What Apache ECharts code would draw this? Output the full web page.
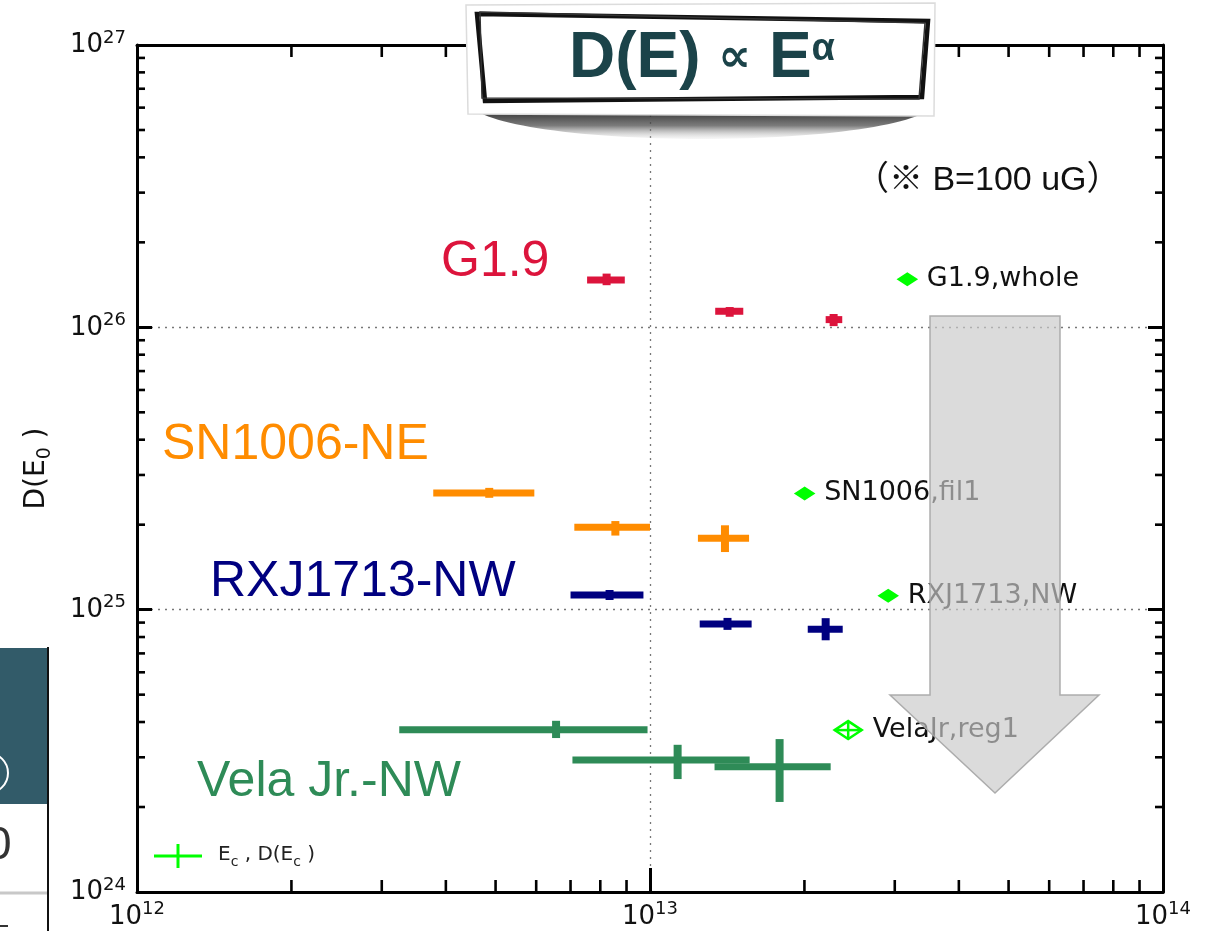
<!DOCTYPE html>
<html><head><meta charset="utf-8">
<script src="https://cdn.jsdelivr.net/npm/echarts@6/dist/echarts.min.js"></script>
<style>html,body{margin:0;padding:0;background:#fff}#c{width:1209px;height:931px}</style>
</head><body><div id="c"></div>
<script>
// ---------- data (E in eV, D in cm^2/s) ----------
const g19E   = [8.23e12, 1.43e13, 2.28e13];
const g19Elo = [7.54e12, 1.34e13, 2.20e13];
const g19Ehi = [8.93e12, 1.52e13, 2.37e13];
const g19D   = [1.47e26, 1.14e26, 1.065e26];
const g19Dlo = [1.41e26, 1.09e26, 1.01e26];
const g19Dhi = [1.55e26, 1.18e26, 1.115e26];

const snE   = [4.86e12, 8.56e12, 1.40e13];
const snElo = [3.78e12, 7.12e12, 1.24e13];
const snEhi = [5.95e12, 1.00e13, 1.56e13];
const snD   = [2.59e25, 1.96e25, 1.79e25];
const snDlo = [2.49e25, 1.83e25, 1.60e25];
const snDhi = [2.70e25, 2.06e25, 1.99e25];

const rxE   = [8.34e12, 1.416e13, 2.20e13];
const rxElo = [7.00e12, 1.25e13, 2.03e13];
const rxEhi = [9.71e12, 1.578e13, 2.375e13];
const rxD   = [1.127e25, 8.90e24, 8.53e24];
const rxDlo = [1.082e25, 8.48e24, 7.79e24];
const rxDhi = [1.174e25, 9.35e24, 9.33e24];

const vjE   = [6.56e12, 1.132e13, 1.789e13];
const vjElo = [3.245e12, 7.06e12, 1.336e13];
const vjEhi = [9.89e12, 1.564e13, 2.25e13];
const vjD   = [3.754e24, 2.933e24, 2.777e24];
const vjDlo = [3.51e24, 2.512e24, 2.084e24];
const vjDhi = [4.04e24, 3.322e24, 3.48e24];

// cutoff points E_c, D(E_c)
const gLabels = ['G1.9,whole', 'SN1006,fil1', 'RXJ1713,NW', 'VelaJr,reg1'];
const gE   = [3.174e13, 2.002e13, 2.913e13, 2.434e13];
const gElo = [3.09e13, 1.95e13, 2.84e13, 2.29e13];
const gEhi = [3.26e13, 2.06e13, 2.99e13, 2.586e13];
const gD   = [1.481e26, 2.58e25, 1.12e25, 3.745e24];
const gDlo = [1.45e26, 2.52e25, 1.09e25, 3.48e24];
const gDhi = [1.52e26, 2.64e25, 1.15e25, 4.03e24];

const sourceNames = ['G1.9', 'SN1006-NE', 'RXJ1713-NW', 'Vela Jr.-NW'];
const xRange = [1e12, 1e14];
const yRange = [1e24, 1e27];
const minorMult = [2, 3, 4, 5, 6, 7, 8, 9];
const xDecades = [1e12, 1e13];
const yDecades = [1e24, 1e25, 1e26];

// ---------- helpers ----------
const COL = {g19: '#dc143c', sn: '#ff8c00', rx: '#000080', vj: '#2e8b57', lime: '#00ff00'};
function rows(E, Elo, Ehi, D, Dlo, Dhi) {
  return E.map((e, i) => [e, Elo[i], Ehi[i], D[i], Dlo[i], Dhi[i]]);
}
function errRender(color) {
  return function (params, api) {
    const c = api.coord([api.value(0), api.value(3)]);
    const l = api.coord([api.value(1), api.value(3)]);
    const r = api.coord([api.value(2), api.value(3)]);
    const t = api.coord([api.value(0), api.value(5)]);
    const b = api.coord([api.value(0), api.value(4)]);
    const th = 7;
    return {type: 'group', children: [
      {type: 'rect', shape: {x: l[0], y: c[1] - th / 2, width: r[0] - l[0], height: th}, style: {fill: color}},
      {type: 'rect', shape: {x: c[0] - th / 2 - 0.5, y: t[1], width: th + 1, height: b[1] - t[1]}, style: {fill: color}}
    ]};
  };
}
function errSeries(name, color, data) {
  return {type: 'custom', name: name, coordinateSystem: 'cartesian2d', xAxisIndex: 0, yAxisIndex: 0,
    encode: {x: [0, 1, 2], y: [3, 4, 5]}, data: data, renderItem: errRender(color), z: 5, silent: true};
}
// minor tick positions (axis decoration)
const minorData = [];
xDecades.forEach(d => minorMult.forEach(m => {
  minorData.push([d * m, yRange[0], 0]);
  minorData.push([d * m, yRange[1], 1]);
}));
yDecades.forEach(d => minorMult.forEach(m => {
  minorData.push([xRange[0], d * m, 2]);
  minorData.push([xRange[1], d * m, 3]);
}));

function decLabel(v) { return '{b|10}{s|' + Math.round(Math.log10(v)) + '}'; }
const AF = 'DejaVu Sans';
const labelRich = {
  b: {fontSize: 26, fontFamily: AF, color: '#111', lineHeight: 27, verticalAlign: 'bottom'},
  s: {fontSize: 18, fontFamily: AF, color: '#111', lineHeight: 19, padding: [0, 0, 14, 0]}
};
const axisLineStyle = {color: '#000', width: 3};
const splitStyle = {color: '#777', width: 1.3, type: [2, 5]};

const chart = echarts.init(document.getElementById('c'));
const option = {
  animation: false,
  backgroundColor: '#fff',
  grid: {left: 137, right: 46, top: 45, bottom: 39, show: false, containLabel: false, outerBoundsMode: 'none'},
  xAxis: [
    {type: 'log', logBase: 10, min: xRange[0], max: xRange[1], position: 'bottom',
     axisLine: {show: true, onZero: false, lineStyle: axisLineStyle},
     axisTick: {show: true, inside: true, length: 24, lineStyle: {color: '#000', width: 3}},
     axisLabel: {formatter: decLabel, margin: 11, rich: labelRich, showMinLabel: true, showMaxLabel: true},
     splitLine: {show: true, lineStyle: splitStyle}},
    {type: 'log', logBase: 10, min: xRange[0], max: xRange[1], position: 'top',
     axisLine: {show: true, onZero: false, lineStyle: axisLineStyle},
     axisTick: {show: true, inside: true, length: 24, lineStyle: {color: '#000', width: 3}},
     axisLabel: {show: false}, splitLine: {show: false}}
  ],
  yAxis: [
    {type: 'log', logBase: 10, min: yRange[0], max: yRange[1], position: 'left',
     name: '{a|D(E}{s|0}{a| )}', nameLocation: 'middle', nameGap: 84,
     nameTextStyle: {rich: {
       a: {fontSize: 28, fontFamily: AF, color: '#111', lineHeight: 30, verticalAlign: 'top'},
       s: {fontSize: 19, fontFamily: AF, color: '#111', lineHeight: 20, padding: [14, 0, 0, 0]}
     }},
     axisLine: {show: true, onZero: false, lineStyle: axisLineStyle},
     axisTick: {show: true, inside: true, length: 15, lineStyle: {color: '#000', width: 3}},
     axisLabel: {formatter: decLabel, margin: 11, rich: labelRich, showMinLabel: true, showMaxLabel: true},
     splitLine: {show: true, lineStyle: splitStyle}},
    {type: 'log', logBase: 10, min: yRange[0], max: yRange[1], position: 'right',
     axisLine: {show: true, onZero: false, lineStyle: axisLineStyle},
     axisTick: {show: true, inside: true, length: 15, lineStyle: {color: '#000', width: 3}},
     axisLabel: {show: false}, splitLine: {show: false}}
  ],
  series: [
    {type: 'custom', name: 'minorTicks', coordinateSystem: 'cartesian2d', encode: {x: 0, y: 1},
     data: minorData, silent: true, z: 4,
     renderItem: function (params, api) {
       const p = api.coord([api.value(0), api.value(1)]);
       const side = api.value(2);
       let x2 = p[0], y2 = p[1];
       if (side === 0) y2 -= 12; else if (side === 1) y2 += 12;
       else if (side === 2) x2 += 8; else x2 -= 8;
       return {type: 'line', shape: {x1: p[0], y1: p[1], x2: x2, y2: y2},
               style: {stroke: '#000', lineWidth: 2.6}};
     }},
    errSeries(sourceNames[0], COL.g19, rows(g19E, g19Elo, g19Ehi, g19D, g19Dlo, g19Dhi)),
    errSeries(sourceNames[1], COL.sn, rows(snE, snElo, snEhi, snD, snDlo, snDhi)),
    errSeries(sourceNames[2], COL.rx, rows(rxE, rxElo, rxEhi, rxD, rxDlo, rxDhi)),
    errSeries(sourceNames[3], COL.vj, rows(vjE, vjElo, vjEhi, vjD, vjDlo, vjDhi)),
    {type: 'custom', name: 'Ec', coordinateSystem: 'cartesian2d', encode: {x: [0, 1, 2], y: [3, 4, 5]},
     data: rows(gE, gElo, gEhi, gD, gDlo, gDhi), silent: true, z: 6,
     renderItem: function (params, api) {
       const c = api.coord([api.value(0), api.value(3)]);
       const l = api.coord([api.value(1), api.value(3)]);
       const r = api.coord([api.value(2), api.value(3)]);
       const t = api.coord([api.value(0), api.value(5)]);
       const b = api.coord([api.value(0), api.value(4)]);
       const ex = (r[0] - l[0]) / 2, ey = (b[1] - t[1]) / 2;
       const hw = Math.max(8.5, ex), hh = Math.max(5.5, ey);
       const hollow = ex > 10;
       return {type: 'group', children: [
         {type: 'polygon', shape: {points: [[c[0] - hw, c[1]], [c[0], c[1] - hh], [c[0] + hw, c[1]], [c[0], c[1] + hh]]},
          style: {fill: hollow ? 'rgba(0,0,0,0)' : COL.lime, stroke: COL.lime, lineWidth: 2.5}},
         {type: 'line', shape: {x1: l[0], y1: c[1], x2: r[0], y2: c[1]}, style: {stroke: COL.lime, lineWidth: 2.5}},
         {type: 'line', shape: {x1: c[0], y1: t[1], x2: c[0], y2: b[1]}, style: {stroke: COL.lime, lineWidth: 2.5}},
         {type: 'text', x: c[0] + hw + 11, y: c[1],
          style: {text: gLabels[params.dataIndex], fontSize: 27, fontFamily: AF, fill: '#111',
                  align: 'left', verticalAlign: 'middle'}}
       ]};
     }}
  ],
  graphic: [
    // source labels
    {type: 'text', x: 441, y: 262, z: 50, style: {text: sourceNames[0], fontSize: 50, fontFamily: 'Liberation Sans', fill: COL.g19, verticalAlign: 'middle'}},
    {type: 'text', x: 162, y: 445, z: 50, style: {text: sourceNames[1], fontSize: 50, fontFamily: 'Liberation Sans', fill: COL.sn, verticalAlign: 'middle'}},
    {type: 'text', x: 210, y: 582, z: 50, style: {text: sourceNames[2], fontSize: 50, fontFamily: 'Liberation Sans', fill: COL.rx, verticalAlign: 'middle'}},
    {type: 'text', x: 197, y: 782, z: 50, style: {text: sourceNames[3], fontSize: 50, fontFamily: 'Liberation Sans', fill: COL.vj, verticalAlign: 'middle'}},
    // note
    {type: 'text', x: 855, y: 181, z: 50, style: {text: '（※ B=100 uG）', fontSize: 34, fontFamily: '"Liberation Sans", "Noto Sans CJK JP"', fill: '#111', verticalAlign: 'middle'}},
    // legend
    {type: 'line', z: 50, shape: {x1: 154, y1: 856, x2: 202, y2: 856}, style: {stroke: COL.lime, lineWidth: 3}},
    {type: 'line', z: 50, shape: {x1: 178, y1: 844, x2: 178, y2: 868}, style: {stroke: COL.lime, lineWidth: 3}},
    {type: 'text', x: 218, y: 856, z: 50, style: {
      text: '{a|E}{s|c}{a| , D(E}{s|c}{a| )}', verticalAlign: 'middle',
      rich: {a: {fontSize: 20, fontFamily: AF, fill: '#222', lineHeight: 22, verticalAlign: 'top'},
             s: {fontSize: 14, fontFamily: AF, fill: '#222', lineHeight: 16, padding: [12, 0, 0, 0]}}}},
    // arrow (semi-transparent, over the data)
    {type: 'polygon', z: 120, shape: {points: [[930, 316], [1060, 316], [1060, 695], [1099, 695], [995, 793], [890, 695], [930, 695]]},
     style: {fill: 'rgba(201,201,201,0.675)', stroke: 'rgba(165,165,165,0.9)', lineWidth: 1.5}},
    // title box shadow
    {type: 'ellipse', z: 130, shape: {cx: 702, cy: 102, rx: 232, ry: 37},
     style: {fill: new echarts.graphic.LinearGradient(0, 0, 0, 1, [
       {offset: 0, color: 'rgba(20,20,20,0.95)'}, {offset: 0.6, color: 'rgba(30,30,30,0.95)'},
       {offset: 0.82, color: 'rgba(80,80,80,0.75)'}, {offset: 1, color: 'rgba(200,200,200,0.15)'}])}},
    {type: 'polygon', z: 131, shape: {points: [[466, 5], [935, 3], [934, 116], [468, 114]]},
     style: {fill: '#fff', stroke: '#dcdcdc', lineWidth: 1.5}},
    {type: 'polygon', z: 132, shape: {points: [[477, 14], [928, 21], [922, 97], [485, 101]]},
     style: {fill: '#fff', stroke: '#111', lineWidth: 4.5}},
    {type: 'polygon', z: 133, shape: {points: [[480, 12], [925, 23], [919, 99], [482, 98]]},
     style: {fill: 'rgba(0,0,0,0)', stroke: '#333', lineWidth: 1.5}},
    {type: 'text', x: 702, y: 59, z: 134, style: {
      text: '{t|D(E) }{p|∝}{t| E}{s|α}', align: 'center', verticalAlign: 'middle',
      rich: {t: {fontSize: 64, fontWeight: 'bold', fontFamily: 'Liberation Sans', fill: '#1b4349', lineHeight: 70},
             p: {fontSize: 46, fontWeight: 'bold', fontFamily: 'DejaVu Sans', fill: '#1b4349', lineHeight: 70},
             s: {fontSize: 38, fontWeight: 'bold', fontFamily: 'Liberation Sans', fill: '#1b4349', lineHeight: 40, verticalAlign: 'top', padding: [7, 0, 0, 0]}}}},
    // fragments of neighbouring slide at left edge
    {type: 'rect', z: 140, shape: {x: 0, y: 648, width: 48, height: 156}, style: {fill: '#325b69'}},
    {type: 'circle', z: 141, shape: {cx: -12, cy: 773, r: 20}, style: {fill: 'rgba(0,0,0,0)', stroke: '#fff', lineWidth: 2}},
    {type: 'line', z: 141, shape: {x1: 48, y1: 647, x2: 48, y2: 931}, style: {stroke: '#111', lineWidth: 2}},
    {type: 'text', x: -14, y: 846, z: 141, style: {text: '0', fontSize: 46, fontFamily: 'Liberation Sans', fill: '#333', verticalAlign: 'middle'}},
    {type: 'line', z: 141, shape: {x1: 0, y1: 893, x2: 47, y2: 893}, style: {stroke: '#c8c8c8', lineWidth: 3}},
    {type: 'line', z: 141, shape: {x1: 0, y1: 926, x2: 8, y2: 926}, style: {stroke: '#333', lineWidth: 2}}
  ]
};
chart.setOption(option);
</script>
</body></html>
